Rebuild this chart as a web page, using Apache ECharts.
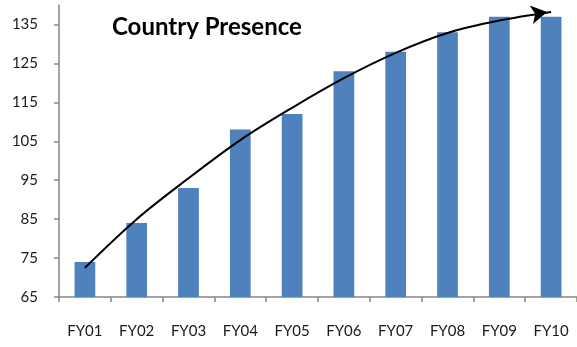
<!DOCTYPE html>
<html>
<head>
<meta charset="utf-8">
<script src="https://cdn.jsdelivr.net/npm/echarts@6/dist/echarts.min.js"></script>
<style>
  html, body { margin: 0; padding: 0; background: #fff; }
  #chart { width: 577px; height: 347px; }
</style>
</head>
<body>
<div id="chart"></div>
<script>
// Fiscal years on the horizontal axis
const years = ['FY01', 'FY02', 'FY03', 'FY04', 'FY05', 'FY06', 'FY07', 'FY08', 'FY09', 'FY10'];
// Number of countries with a presence, per year
const countries = [74, 84, 93, 108, 112, 123, 128, 133, 137, 137];
// Growth trend curve drawn over the bars, ending in an arrow
const trend = [72.5, 85, 95.5, 105.3, 113.6, 121.2, 127.7, 132.8, 136, 138.2];
// Value axis tick labels
const yTicks = [65, 75, 85, 95, 105, 115, 125, 135];

const axisGray = '#868686';
const labelFont = 'Lato, "Open Sans", sans-serif';

const trendData = trend.map((v, i) => i === trend.length - 1
  ? { value: v, symbol: 'arrow', symbolSize: [14, 16], symbolRotate: -80, symbolOffset: [-4, 0] }
  : { value: v });

const chart = echarts.init(document.getElementById('chart'), null, { renderer: 'canvas' });
chart.setOption({
  animation: false,
  title: {
    text: 'Country Presence',
    left: 112,
    top: 15,
    padding: 0,
    textStyle: { fontFamily: labelFont, fontWeight: 'bold', fontSize: 24, color: '#000' }
  },
  grid: { left: 59, right: -2, top: 5, bottom: 50, containLabel: false },
  xAxis: {
    type: 'category',
    data: years,
    axisLine: { lineStyle: { color: axisGray, width: 1.5 } },
    axisTick: { show: true, length: 5, lineStyle: { color: axisGray, width: 1.5 } },
    axisLabel: { margin: 27, fontFamily: labelFont, fontSize: 15, color: '#1a1a1a' },
    splitLine: { show: false }
  },
  yAxis: {
    type: 'value',
    min: 65,
    max: 140,
    interval: 10,
    axisLine: { show: true, lineStyle: { color: axisGray, width: 1.5 } },
    axisTick: { show: true, length: 5, inside: false, customValues: yTicks, lineStyle: { color: axisGray, width: 1.5 } },
    axisLabel: { margin: 21, fontFamily: labelFont, fontSize: 15, color: '#1a1a1a', customValues: yTicks },
    splitLine: { show: false }
  },
  series: [
    {
      type: 'bar',
      data: countries,
      barWidth: '40%',
      itemStyle: { color: '#4f81bd' },
      silent: true
    },
    {
      type: 'line',
      data: trendData,
      smooth: 0.35,
      symbol: 'none',
      showAllSymbol: true,
      lineStyle: { color: '#000', width: 2 },
      itemStyle: { color: '#000' },
      silent: true,
      z: 5
    }
  ]
});
</script>
</body>
</html>
